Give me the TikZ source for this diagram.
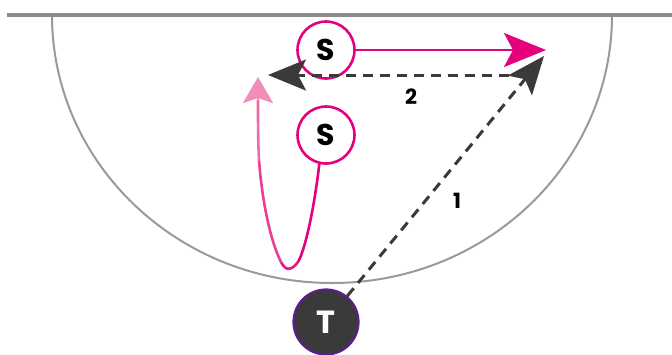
\documentclass[tikz,border=0pt]{standalone}
\usepackage{fontspec}
\setmainfont{Poppins}
\usetikzlibrary{arrows.meta}
\definecolor{magenta}{HTML}{E5007D}
\definecolor{lightpink}{HTML}{F18DB8}
\definecolor{darkgrey}{HTML}{3A3A3A}
\definecolor{courtgrey}{HTML}{9A9A9A}
\definecolor{coachpurple}{HTML}{5B1F8C}
\tikzset{
  player/.style={circle, draw=magenta, line width=2.6pt, fill=white,
    minimum size=57pt, inner sep=0pt, font=\bfseries\fontsize{30}{30}\selectfont, text=black},
  coach/.style={circle, draw=coachpurple, line width=2.2pt, fill=darkgrey,
    minimum size=65pt, inner sep=0pt, font=\bfseries\fontsize{32}{32}\selectfont, text=white},
  passline/.style={draw=darkgrey, line width=3pt, dash pattern=on 10pt off 7pt},
  passtip/.style={-{Stealth[length=38pt,width=31pt,inset=8pt]}},
  runline/.style={draw=magenta, line width=2.6pt},
  runtip/.style={-{Stealth[length=42pt,width=34pt,inset=9pt,fill=magenta]}},
  num/.style={font=\bfseries\fontsize{21}{21}\selectfont, text=black}
}
\begin{document}
\begin{tikzpicture}[x=1pt,y=-1pt]
  \useasboundingbox (0,0) rectangle (672,354);
  \fill[white] (0,0) rectangle (672,354);
  % court: baseline and three-point arc
  \draw[courtgrey, line width=2pt] (332+280,15) arc[start angle=0, end angle=180, x radius=280, y radius=268];
  \draw[courtgrey!90!black, line width=3.5pt] (7,15) -- (672,15);

  % players and coach
  \node[player] (S1) at (326,50) {S};
  \node[player] (S2) at (326,135) {S};
  \node[coach] (T) at (326,322) {T};

  % end points of the passes and the run
  \coordinate (P1) at (544,56);
  \coordinate (P2start) at (509,75);
  \coordinate (P2) at (268,75);
  \coordinate (R1) at (546,50);
  \coordinate (Cup) at (258,77);

  % run of the top player
  \draw[runline, runtip] (S1) -- (R1);

  % pass 1 from the coach, pass 2 back across the top
  \draw[passline, passtip, darkgrey] (T) -- (P1);
  \draw[passline, passtip, darkgrey] (P2start) -- (P2);

  % cut of the lower player: colour fades from magenta to light pink
  \begin{scope}[line width=2.6pt, line cap=round]
    \draw[magenta] (S2.-103) .. controls (314,210) and (305,250) .. (298,262);
    \draw[magenta!85!lightpink] (298,262) .. controls (292,270) and (286,272) .. (281,262);
    \draw[magenta!55!lightpink] (281,262) .. controls (270,240) and (262,200) .. (259,160);
    \draw[magenta!25!lightpink] (259,160) .. controls (258,140) and (258,120) .. (258,100);
  \end{scope}
  \draw[lightpink, line width=2.6pt, -{Stealth[length=26pt,width=30pt,inset=5pt]}] (258,101) -- (Cup);

  % pass numbers
  \node[num] (n2) at (411,97) {2};
  \node[num] (n1) at (457,201) {1};
\end{tikzpicture}
\end{document}
